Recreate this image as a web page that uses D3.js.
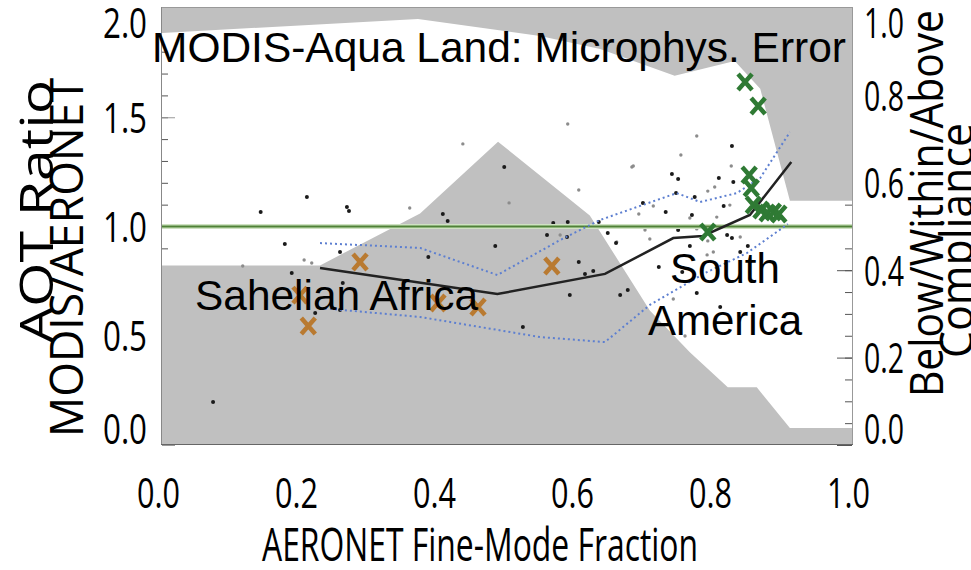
<!DOCTYPE html>
<html lang="en">
<head>
<meta charset="UTF-8"/>
<title>MODIS-Aqua Land: Microphys. Error</title>
<script src="https://d3js.org/d3.v7.min.js"></script>
<style>
  body { margin: 0; background: #fff; }
  text { font-family: "Liberation Sans", Arial, sans-serif; fill: #000; }
  .num, .atitle { font-family: "Open Sans", "DejaVu Sans Condensed", sans-serif; }
  .num { font-size: 42px; }
  .atitle { font-size: 45px; }
</style>
</head>
<body>
<div id="chart"></div>
<script>

// compliance fractions (right axis), read at bin positions
var belowX    = [0, 0.229, 0.374, 0.487, 0.620, 0.707, 0.765, 0.820, 0.862, 0.910, 1.0]
var belowFrac = [0.411, 0.411, 0.530, 0.694, 0.525, 0.308, 0.212, 0.132, 0.132, 0.039, 0.039]
var aboveX    = [0, 0.371, 0.548, 0.635, 0.743, 0.830, 0.867, 0.910, 1.0]
var aboveFrac = [0.057, 0.025, 0.064, 0.094, 0.155, 0.121, 0.185, 0.441, 0.441]

// binned mean ratio and the +/- envelope
var meanX  = [0.229, 0.486, 0.642, 0.741, 0.784, 0.852, 0.912]
var meanY  = [0.810, 0.691, 0.783, 0.947, 0.957, 1.053, 1.295]
var upperX = [0.229, 0.374, 0.486, 0.577, 0.635, 0.746, 0.780, 0.833, 0.867, 0.910]
var upperY = [0.924, 0.902, 0.778, 0.938, 1.030, 1.153, 1.112, 1.153, 1.222, 1.432]
var lowerX = [0.229, 0.374, 0.548, 0.642, 0.707, 0.787, 0.848, 0.907]
var lowerY = [0.627, 0.586, 0.494, 0.471, 0.641, 0.787, 0.879, 1.011]

// regional sites
var sahelX = [0.200, 0.212, 0.287, 0.400, 0.458, 0.565]
var sahelY = [0.686, 0.545, 0.838, 0.650, 0.632, 0.819]
var samX = [0.845, 0.864, 0.851, 0.854, 0.857, 0.868, 0.877, 0.886, 0.894, 0.791]
var samY = [1.661, 1.551, 1.236, 1.176, 1.098, 1.076, 1.062, 1.066, 1.057, 0.975]

// individual sites
var darkDots = [[0.143,1.066],[0.210,1.135],[0.268,1.089],[0.271,1.071],[0.407,1.057],[0.414,1.025],
  [0.496,1.272],[0.178,0.920],[0.483,0.911],[0.258,0.883],[0.188,0.787],[0.262,0.741],[0.222,0.604],
  [0.258,0.618],[0.386,0.860],[0.523,0.540],[0.074,0.197],[0.567,1.016],[0.588,1.021],[0.558,0.961],
  [0.587,0.952],[0.646,0.970],[0.658,0.924],[0.604,0.838],[0.625,0.796],[0.613,0.783],[0.826,1.368],
  [0.739,1.240],[0.748,1.217],[0.807,1.222],[0.828,1.204],[0.745,1.153],[0.772,1.135],[0.697,1.108],
  [0.814,1.094],[0.730,1.066],[0.768,1.053],[0.633,1.021],[0.841,1.002],[0.748,0.984],[0.819,0.961],
  [0.826,0.947],[0.765,0.911],[0.849,0.911],[0.838,0.883],[0.720,0.815],[0.754,0.792],[0.591,0.686],
  [0.664,0.686],[0.675,0.709],[0.775,0.696],[0.809,0.632]]
var lightDots = [[0.359,1.085],[0.436,1.378],[0.503,1.108],[0.206,0.847],[0.217,0.833],[0.117,0.819],
  [0.604,1.167],[0.588,1.469],[0.681,1.272],[0.577,0.961],[0.752,1.327],[0.683,1.277],[0.825,1.277],
  [0.801,1.181],[0.791,1.162],[0.712,1.094],[0.823,1.098],[0.691,1.057],[0.765,1.039],[0.804,1.043],
  [0.728,0.998],[0.700,0.984],[0.775,0.989],[0.659,0.929],[0.707,0.943],[0.838,0.952],[0.791,0.934],
  [0.799,0.883],[0.790,0.870],[0.741,0.668],[0.758,0.499],[0.775,1.414]]

var xTicks = [0, 0.2, 0.4, 0.6, 0.8, 1.0]
var yTicks = [0, 0.5, 1.0, 1.5, 2.0]
var rTicks = [0, 0.2, 0.4, 0.6, 0.8, 1.0]

var width = 971, height = 570
var plotL = 162, plotR = 852, plotT = 8, plotB = 445

var x = d3.scaleLinear().domain([0, 1]).range([plotL, plotR])
var y = d3.scaleLinear().domain([0, 2]).range([plotB, plotT])
var yR = d3.scaleLinear().domain([0, 1]).range([plotB, plotT])

var svg = d3.select("#chart")
  .append("svg")
    .attr("width", width)
    .attr("height", height)

// keep the end labels inside the frame height
function labelBase(py) { return Math.max(37, Math.min(443, py + 15)) }

// left axis: minor + major ticks pointing inward
svg.append("g")
  .attr("transform", "translate(" + plotL + ",0)")
  .call(d3.axisLeft(y).tickValues(d3.range(0, 2.01, 0.1)).tickSize(-6).tickFormat(""))
  .call(function(g) { g.select(".domain").remove(); g.selectAll("line").attr("stroke", "#555") })

svg.append("g")
  .attr("transform", "translate(" + plotL + ",0)")
  .call(d3.axisLeft(y).tickValues(yTicks).tickSize(-13).tickPadding(15).tickFormat(d3.format(".1f")))
  .call(function(g) {
    g.select(".domain").remove()
    g.selectAll("line").attr("stroke", "#999")
    g.selectAll("text")
      .attr("class", "num")
      .attr("dy", null)
      .attr("y", function(d) { return labelBase(y(d)) - y(d) })
      .attr("textLength", 44).attr("lengthAdjust", "spacingAndGlyphs")
      .attr("font-size", null).attr("font-family", null)
  })

// right axis
svg.append("g")
  .attr("transform", "translate(" + plotR + ",0)")
  .call(d3.axisRight(yR).tickValues(d3.range(0, 1.001, 0.05)).tickSize(-7).tickFormat(""))
  .call(function(g) { g.select(".domain").remove(); g.selectAll("line").attr("stroke", "#555") })

svg.append("g")
  .attr("transform", "translate(" + plotR + ",0)")
  .call(d3.axisRight(yR).tickValues(rTicks).tickSize(-15).tickPadding(12).tickFormat(d3.format(".1f")))
  .call(function(g) {
    g.select(".domain").remove()
    g.selectAll("line").attr("stroke", "#555")
    g.selectAll("text")
      .attr("class", "num")
      .attr("dy", null)
      .attr("y", function(d) { return labelBase(yR(d)) - yR(d) })
      .attr("textLength", 40).attr("lengthAdjust", "spacingAndGlyphs")
      .attr("font-size", null).attr("font-family", null)
  })

// bottom axis labels only
svg.append("g")
  .attr("transform", "translate(0," + plotB + ")")
  .call(d3.axisBottom(x).tickValues(xTicks).tickSize(0).tickFormat(d3.format(".1f")))
  .call(function(g) {
    g.select(".domain").remove()
    g.selectAll("text")
      .attr("class", "num")
      .attr("dy", null)
      .attr("y", 63)
      .attr("dx", -4)
      .attr("textLength", 43).attr("lengthAdjust", "spacingAndGlyphs")
      .attr("font-size", null).attr("font-family", null)
  })

// compliance shading
var below = belowX.map(function(d, i) { return [d, belowFrac[i]] })
var above = aboveX.map(function(d, i) { return [d, aboveFrac[i]] })

svg.append("path")
  .datum(below)
  .attr("fill", "#c0c0c0")
  .attr("d", d3.area()
    .x(function(d) { return x(d[0]) })
    .y0(yR(0))
    .y1(function(d) { return yR(d[1]) }))

svg.append("path")
  .datum(above)
  .attr("fill", "#c0c0c0")
  .attr("d", d3.area()
    .x(function(d) { return x(d[0]) })
    .y0(yR(1))
    .y1(function(d) { return yR(1 - d[1]) }))

// frame
svg.append("line").attr("x1", plotL).attr("x2", plotR).attr("y1", plotT - 0.5).attr("y2", plotT - 0.5).attr("stroke", "#999")
svg.append("line").attr("x1", plotR + 0.5).attr("x2", plotR + 0.5).attr("y1", plotT - 1).attr("y2", plotB).attr("stroke", "#999")
svg.append("line").attr("x1", plotL - 0.5).attr("x2", plotL - 0.5).attr("y1", plotT - 1).attr("y2", plotB).attr("stroke", "#888")
svg.append("line").attr("x1", plotL - 1).attr("x2", plotR + 1).attr("y1", plotB - 0.5).attr("y2", plotB - 0.5).attr("stroke", "#666")

// site dots
svg.selectAll(".light")
  .data(lightDots)
  .enter()
  .append("circle")
    .attr("cx", function(d) { return x(d[0]) })
    .attr("cy", function(d) { return y(d[1]) })
    .attr("r", 1.7)
    .attr("fill", "#8c8c8c")

svg.selectAll(".dark")
  .data(darkDots)
  .enter()
  .append("circle")
    .attr("cx", function(d) { return x(d[0]) })
    .attr("cy", function(d) { return y(d[1]) })
    .attr("r", 2)
    .attr("fill", "#1a1a1a")

// one-to-one line
svg.append("line").attr("x1", plotL).attr("x2", plotR).attr("y1", y(1)).attr("y2", y(1))
  .attr("stroke", "#cfe2c2").attr("stroke-width", 5)
svg.append("line").attr("x1", plotL).attr("x2", plotR).attr("y1", y(1)).attr("y2", y(1))
  .attr("stroke", "#4f8236").attr("stroke-width", 2)

var line = d3.line()
  .x(function(d) { return x(d[0]) })
  .y(function(d) { return y(d[1]) })

var upper = upperX.map(function(d, i) { return [d, upperY[i]] })
var lower = lowerX.map(function(d, i) { return [d, lowerY[i]] })
var mean = meanX.map(function(d, i) { return [d, meanY[i]] })

svg.selectAll(".env")
  .data([upper, lower])
  .enter()
  .append("path")
    .attr("d", line)
    .attr("fill", "none")
    .attr("stroke", "#5d7fd0")
    .attr("stroke-width", 2)
    .attr("stroke-dasharray", "2,3")

svg.append("path")
  .datum(mean)
  .attr("d", line)
  .attr("fill", "none")
  .attr("stroke", "#222")
  .attr("stroke-width", 2.5)

// X markers for the two regions
function crosses(xs, ys, color) {
  svg.append("g")
    .selectAll("path")
    .data(xs.map(function(d, i) { return [d, ys[i]] }))
    .enter()
    .append("path")
      .attr("transform", function(d) { return "translate(" + x(d[0]) + "," + y(d[1]) + ")" })
      .attr("d", "M-7,-8L7,8M-7,8L7,-8")
      .attr("stroke", color)
      .attr("stroke-width", 4.5)
      .attr("fill", "none")
}
crosses(sahelX, sahelY, "#b97a31")
crosses(samX, samY, "#2f7a34")

// annotations
svg.append("text").attr("x", 152).attr("y", 62).text("MODIS-Aqua Land: Microphys. Error")
  .attr("font-size", 42.5).attr("textLength", 694).attr("lengthAdjust", "spacingAndGlyphs")
svg.append("text").attr("x", 195).attr("y", 310).text("Sahelian Africa")
  .attr("font-size", 42).attr("textLength", 283).attr("lengthAdjust", "spacingAndGlyphs")
svg.append("text").attr("x", 725).attr("y", 283).text("South")
  .attr("text-anchor", "middle").attr("font-size", 42)
svg.append("text").attr("x", 725).attr("y", 335).text("America")
  .attr("text-anchor", "middle").attr("font-size", 42)

// axis titles
svg.append("text").attr("class", "atitle").attr("x", 262).attr("y", 561)
  .text("AERONET Fine-Mode Fraction")
  .attr("textLength", 436).attr("lengthAdjust", "spacingAndGlyphs")

svg.append("text").attr("class", "atitle").attr("transform", "translate(53,343) rotate(-90)")
  .text("AOT Ratio")
  .attr("textLength", 263).attr("lengthAdjust", "spacingAndGlyphs")
svg.append("text").attr("class", "atitle").attr("transform", "translate(83,437) rotate(-90)")
  .text("MODIS/AERONET")
  .attr("textLength", 359).attr("lengthAdjust", "spacingAndGlyphs")

svg.append("text").attr("class", "atitle").attr("transform", "translate(943,397) rotate(-90)")
  .text("Below/Within/Above")
  .attr("textLength", 387).attr("lengthAdjust", "spacingAndGlyphs")
svg.append("text").attr("class", "atitle").attr("transform", "translate(973,358) rotate(-90)")
  .text("Compliance")
  .attr("textLength", 235).attr("lengthAdjust", "spacingAndGlyphs")

</script>
</body>
</html>
